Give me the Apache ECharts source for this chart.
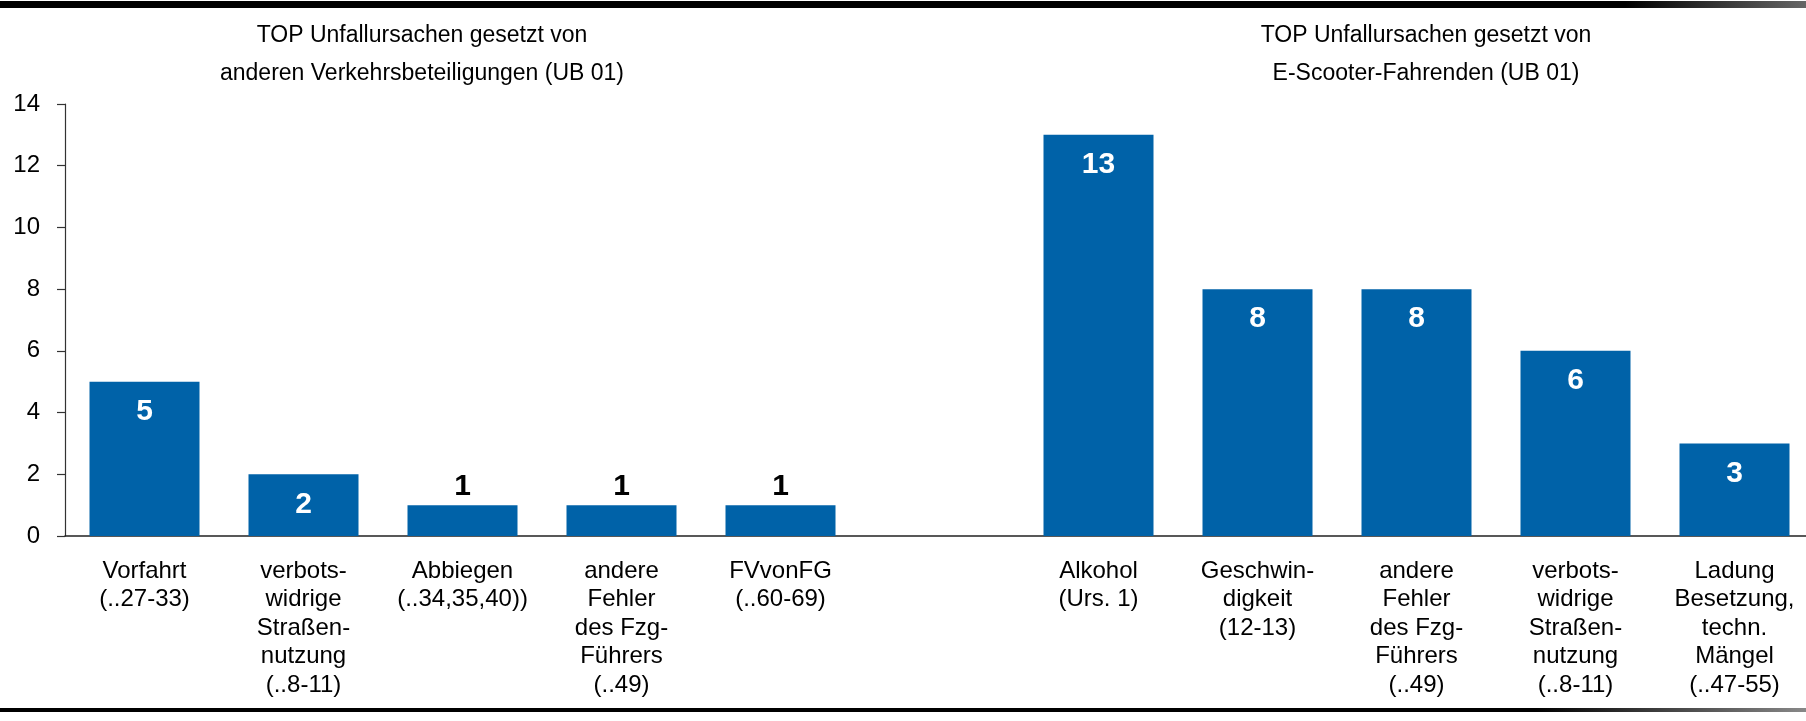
<!DOCTYPE html>
<html>
<head>
<meta charset="utf-8">
<script src="https://cdn.jsdelivr.net/npm/echarts@6/dist/echarts.min.js"></script>
<style>
  html, body { margin: 0; padding: 0; background: #fff; overflow: hidden; }
  /* a little wider than the window: the source plot is cut at its right edge */
  #chart { width: 1816px; height: 721px; }
</style>
</head>
<body>
<div id="chart"></div>
<script>
// left block: caused by other road users
const leftCategories = [
  'Vorfahrt\n(..27-33)',
  'verbots-\nwidrige\nStraßen-\nnutzung\n(..8-11)',
  'Abbiegen\n(..34,35,40))',
  'andere\nFehler\ndes Fzg-\nFührers\n(..49)',
  'FVvonFG\n(..60-69)'
]
const leftValues = [5, 2, 1, 1, 1]

// right block: caused by e-scooter riders
const rightCategories = [
  'Alkohol\n(Urs. 1)',
  'Geschwin-\ndigkeit\n(12-13)',
  'andere\nFehler\ndes Fzg-\nFührers\n(..49)',
  'verbots-\nwidrige\nStraßen-\nnutzung\n(..8-11)',
  'Ladung\nBesetzung,\ntechn.\nMängel\n(..47-55)'
]
const rightValues = [13, 8, 8, 6, 3]

const leftTitle = 'TOP Unfallursachen gesetzt von\nanderen Verkehrsbeteiligungen (UB 01)'
const rightTitle = 'TOP Unfallursachen gesetzt von\nE-Scooter-Fahrenden (UB 01)'

const FONT = 'Liberation Sans, Arial, sans-serif'

// one empty slot separates the two blocks
const categories = [...leftCategories, '', ...rightCategories]
const values = [...leftValues, null, ...rightValues]

const barData = values.map(v => {
  if (v === null) return { value: null }
  if (v <= 1) {
    return {
      value: v,
      label: { position: 'top', distance: 3, color: '#000', align: 'center', verticalAlign: 'bottom' }
    }
  }
  return { value: v }
})

const chart = echarts.init(document.getElementById('chart'), null, { renderer: 'canvas' })

chart.setOption({
  animation: false,
  backgroundColor: '#fff',
  textStyle: { fontFamily: FONT },
  title: [
    {
      text: leftTitle,
      left: 417,
      top: 12,
      textAlign: 'center',
      textStyle: { fontSize: 23, fontWeight: 'normal', color: '#000', lineHeight: 38, fontFamily: FONT }
    },
    {
      text: rightTitle,
      left: 1421,
      top: 12,
      textAlign: 'center',
      textStyle: { fontSize: 23, fontWeight: 'normal', color: '#000', lineHeight: 38, fontFamily: FONT }
    }
  ],
  graphic: [
    {
      type: 'rect',
      shape: { x: 0, y: 1, width: 1806, height: 7 },
      style: {
        fill: new echarts.graphic.LinearGradient(0, 0, 1, 0, [
          { offset: 0, color: '#000' },
          { offset: 0.9, color: '#000' },
          { offset: 1, color: '#666' }
        ])
      },
      silent: true
    },
    {
      type: 'rect',
      shape: { x: 0, y: 708, width: 1806, height: 4 },
      style: {
        fill: new echarts.graphic.LinearGradient(0, 0, 1, 0, [
          { offset: 0, color: '#000' },
          { offset: 0.85, color: '#000' },
          { offset: 1, color: '#888' }
        ])
      },
      silent: true
    }
  ],
  grid: { left: 65, top: 104, right: 2, height: 432, containLabel: false },
  xAxis: {
    type: 'category',
    data: categories,
    axisLine: { show: true, lineStyle: { color: '#222', width: 1.5 } },
    axisTick: { show: false },
    axisLabel: {
      interval: 0,
      margin: 21,
      fontSize: 24,
      lineHeight: 28.5,
      color: '#000',
      fontFamily: FONT
    }
  },
  yAxis: {
    type: 'value',
    min: 0,
    max: 14,
    interval: 2,
    axisLine: { show: true, lineStyle: { color: '#333', width: 1.2 } },
    axisTick: { show: true, length: 8, lineStyle: { color: '#333', width: 1.2 } },
    splitLine: { show: false },
    axisLabel: { fontSize: 24, color: '#000', margin: 25, fontFamily: FONT }
  },
  series: [
    {
      type: 'bar',
      data: barData,
      barWidth: 110,
      itemStyle: { color: '#0062A8' },
      label: {
        show: true,
        position: ['50%', 30],
        align: 'center',
        verticalAlign: 'middle',
        color: '#fff',
        fontSize: 30,
        fontWeight: 'bold',
        fontFamily: FONT
      }
    }
  ]
})
</script>
</body>
</html>
